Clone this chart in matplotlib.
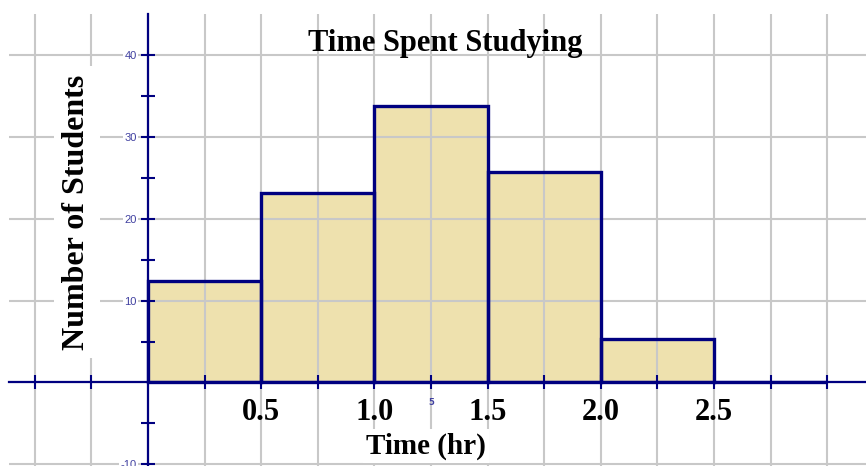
import numpy as np
import matplotlib.pyplot as plt

# histogram data: time bins (hr) and number of students
bin_left = [0.0, 0.5, 1.0, 1.5, 2.0, 2.5]
bin_width = 0.5
students = [12.4, 23.2, 33.8, 25.7, 5.3, 0.0]

x_ticks = [-0.5, -0.25, 0.25, 0.5, 0.75, 1.0, 1.25, 1.5, 1.75, 2.0, 2.25, 2.5, 2.75, 3.0]
x_ticklabels = ["", "", "", "0.5", "", "1.0", "", "1.5", "", "2.0", "", "2.5", "", ""]
y_ticks = [-10, -5, 5, 10, 15, 20, 25, 30, 35, 40]
y_ticklabels = ["-10", "", "", "10", "", "20", "", "30", "", "40"]

navy = "#000080"
fill = "#EEE1AE"
serif = "Liberation Serif"

fig = plt.figure(figsize=(8.66, 4.66), dpi=100)
ax = fig.add_axes([9 / 866, 0, 1 - 9 / 866, (466 - 14) / 466])
ax.set_xlim(-0.614, 3.171)
ax.set_ylim(-10.2, 45.0)

# fill first, grid over it, outlines on top
ax.bar(bin_left, students, width=bin_width, align="edge", color=fill,
       edgecolor="none", zorder=1)
ax.bar(bin_left, students, width=bin_width, align="edge", fill=False,
       edgecolor=navy, linewidth=2.4, zorder=3)

# light grey grid every 0.25 hr and every 10 students
for gx in np.arange(-0.5, 3.01, 0.25):
    ax.axvline(gx, color="#C8C8C8", linewidth=1.5, zorder=2)
for gy in np.arange(-10, 41, 10):
    ax.axhline(gy, color="#C8C8C8", linewidth=1.5, zorder=2)

for side in ["top", "right"]:
    ax.spines[side].set_visible(False)
ax.spines["left"].set_position(("data", 0))
ax.spines["bottom"].set_position(("data", 0))
for side in ["left", "bottom"]:
    ax.spines[side].set_color(navy)
    ax.spines[side].set_linewidth(1.6)
    ax.spines[side].set_zorder(2.6)
ax.xaxis.set_zorder(2.7)
ax.yaxis.set_zorder(2.7)

ax.set_xticks(x_ticks)
ax.set_xticklabels(x_ticklabels, fontfamily=serif, fontweight="bold",
                   fontsize=22, color="black")
ax.set_yticks(y_ticks)
ax.set_yticklabels(y_ticklabels, fontfamily="Liberation Sans", fontsize=8,
                   color="#4040A0")
for lbl in ax.get_yticklabels():
    if lbl.get_text():
        lbl.set_bbox(dict(facecolor="white", edgecolor="none", pad=1))
ax.tick_params(direction="inout", length=10, width=1.5, color=navy)
ax.tick_params(axis="x", pad=6)
ax.tick_params(axis="y", pad=3)

# stray label left by the original tool
ax.text(1.25, -2.45, "5", fontsize=6, color="#4040A0", fontweight="bold",
        ha="center", va="center", zorder=4)

ax.set_title("Time Spent Studying", fontfamily=serif, fontweight="bold",
             fontsize=22, x=(445 - 9) / 857, y=(466 - 44) / 452, va="center",
             pad=0)
ax.set_xlabel("Time (hr)", fontfamily=serif, fontweight="bold", fontsize=21,
              va="center", bbox=dict(facecolor="white", edgecolor="none", pad=2))
ax.xaxis.set_label_coords((426 - 9) / 857, (466 - 446) / 452)
ax.set_ylabel("Number of Students", fontfamily=serif, fontweight="bold",
              fontsize=23, va="center",
              bbox=dict(facecolor="white", edgecolor="none", pad=6))
ax.yaxis.set_label_coords((77 - 9) / 857, (466 - 212) / 452)

fig.savefig("out.png", dpi=100)
